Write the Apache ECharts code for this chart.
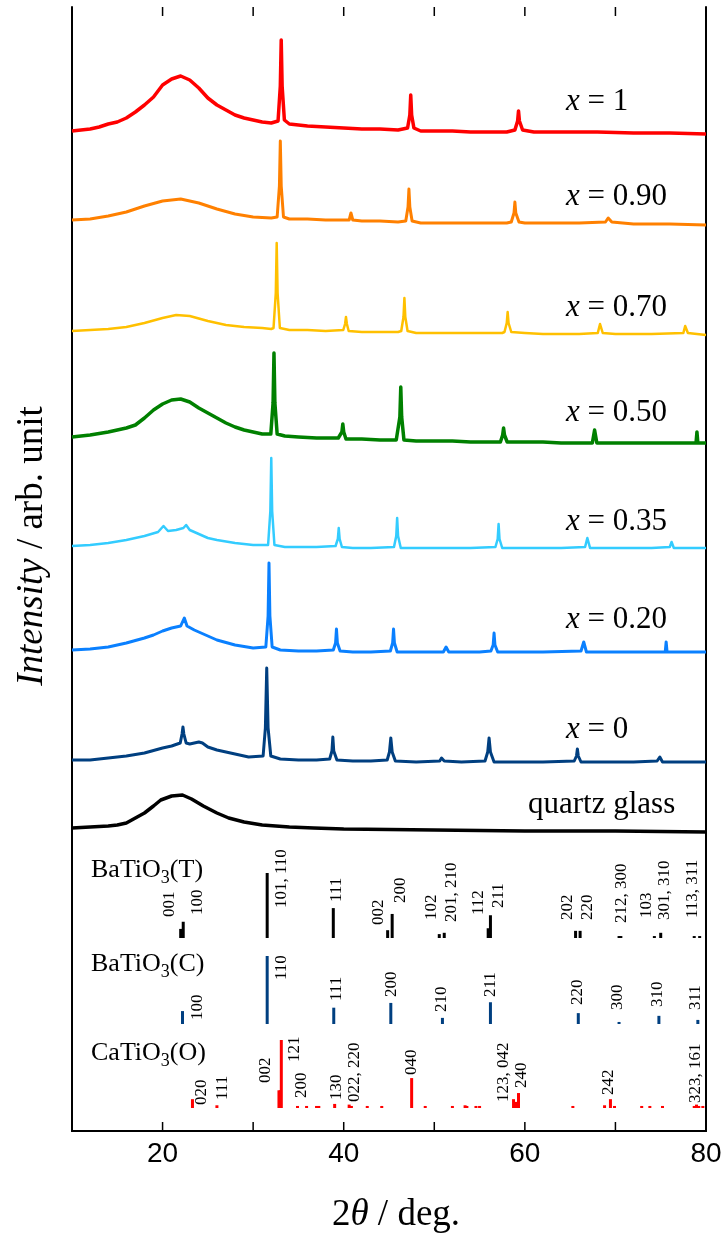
<!DOCTYPE html>
<html>
<head>
<meta charset="utf-8">
<title>XRD patterns</title>
<script src="https://cdn.jsdelivr.net/npm/echarts@6.0.0/dist/echarts.min.js"></script>
<style>
html, body { margin: 0; padding: 0; background: #fff; }
#chart { width: 726px; height: 1239px; }
</style>
</head>
<body>
<div id="chart"></div>
<script>
// ---- data ----

var xTickLabels = [20, 40, 60, 80];

var sampleNames = ['x = 1', 'x = 0.90', 'x = 0.70', 'x = 0.50', 'x = 0.35', 'x = 0.20', 'x = 0', 'quartz glass'];

// [2theta, intensity] per sample, intensity above the sample's own zero
var trace100 = [
    [10, 0], [11, 1], [12, 2], [13, 4], [14, 7], [15, 9], [16, 13], [17, 19], [18, 26], [19, 34],
    [20, 46], [21, 52], [22, 55], [23, 51], [24, 43], [25, 33], [26, 26], [27, 21], [28, 16], [29, 13],
    [30, 11], [31, 9], [32, 8], [32.75, 10], [33.0, 45], [33.1, 91], [33.2, 45], [33.45, 11],
    [34, 7], [35, 6], [36, 5], [38, 4], [40, 3], [42, 2], [44, 2], [46, 1],
    [47.05, 3], [47.3, 16], [47.4, 36], [47.5, 16], [47.75, 3],
    [48.5, 0], [50, 0], [52, 0], [54, -1], [56, -1], [58, -1],
    [58.9, 1], [59.2, 10], [59.3, 20], [59.4, 10], [59.75, 1],
    [61, -1], [64, -1], [68, -1], [72, -2], [76, -2], [80, -3]
];
var trace090 = [
    [10, 1], [12, 2], [14, 5], [16, 9], [18, 15], [20, 20], [22, 22], [24, 18], [26, 12], [28, 7],
    [30, 4], [32, 3], [32.65, 4], [32.9, 35], [33.0, 80], [33.1, 35], [33.35, 4],
    [34, 2], [36, 2], [38, 1], [40.6, 1], [40.8, 8], [41.0, 1], [42, 0], [44, 0], [46, -1],
    [46.85, 0], [47.1, 14], [47.2, 32], [47.3, 14], [47.55, 0],
    [48.5, -2], [50, -2], [52, -2], [54, -2], [56, -2], [58, -2],
    [58.5, -1], [58.8, 8], [58.9, 19], [59.0, 8], [59.35, -1],
    [60, -2], [62, -2], [64, -2], [66, -2], [68.9, -1], [69.2, 3], [69.6, -1],
    [72, -3], [76, -3], [80, -4]
];
var trace070 = [
    [10, 0], [12, 1], [14, 2], [16, 4], [18, 8], [20, 13], [21.5, 16], [23, 15], [25, 10], [27, 6],
    [29, 4], [31, 3], [32, 2], [32.25, 3], [32.5, 38], [32.6, 88], [32.7, 38], [32.95, 3],
    [34, 1], [36, 1], [38, 0], [39.95, 1], [40.15, 7], [40.25, 14], [40.35, 7], [40.55, 0],
    [42, -1], [44, -1], [46, -1], [46.35, 0], [46.6, 14], [46.7, 33], [46.8, 14], [47.05, 0],
    [48, -2], [50, -2], [52, -2], [54, -2], [56, -2], [57.5, -2],
    [57.75, -1], [58.0, 8], [58.1, 19], [58.2, 8], [58.5, -1],
    [60, -2], [62, -3], [64, -3], [66, -3], [68.05, -2], [68.3, 7], [68.6, -2],
    [70, -3], [72, -3], [74, -3], [77.5, -2], [77.7, 5], [78, -2], [80, -4]
];
var trace050 = [
    [10, 4], [12, 6], [14, 9], [16, 13], [17, 16], [18, 23], [19, 31], [20, 37], [21, 41], [22, 42],
    [23, 39], [24, 33], [25, 28], [26, 23], [27, 18], [28, 14], [29, 11], [30, 9], [31, 7], [31.95, 7],
    [32.2, 38], [32.3, 88], [32.4, 38], [32.65, 7], [33.5, 5], [35, 4], [37, 3], [39.4, 3],
    [39.6, 3], [39.8, 9], [39.9, 17], [40.0, 9], [40.25, 2], [42, 2], [44, 1], [45.8, 1],
    [45.95, 2], [46.2, 24], [46.3, 54], [46.4, 24], [46.65, 1],
    [48, 0], [50, 0], [52, 0], [54, -1], [57, -1],
    [57.3, -1], [57.55, 6], [57.65, 13], [57.75, 6], [58.05, -1],
    [60, -1], [62, -1], [64, -2], [67.45, -2], [67.7, 11], [67.95, -2],
    [70, -2], [74, -2], [78.9, -2], [79.0, 9], [79.1, -2], [80, -2]
];
var trace035 = [
    [10, 5], [12, 6], [14, 8], [16, 11], [18, 15], [19.5, 19], [20.1, 25], [20.6, 20], [21.5, 21],
    [22.3, 23], [22.6, 26], [23, 21], [24, 17], [25, 13], [26, 11], [28, 8], [30, 6], [31.65, 6],
    [31.9, 40], [32.0, 93], [32.1, 40], [32.35, 6], [33.5, 4], [35, 4], [37, 4], [39.1, 5],
    [39.35, 12], [39.45, 23], [39.55, 12], [39.8, 4], [41, 3], [43, 3], [45.55, 4],
    [45.8, 15], [45.9, 33], [46.0, 15], [46.3, 3], [48, 3], [50, 3], [52, 3], [54, 3], [56.75, 4],
    [57.0, 12], [57.1, 27], [57.2, 12], [57.5, 3], [60, 3], [62, 3], [64, 3], [66.65, 4],
    [66.9, 13], [67.2, 3], [70, 3], [74, 3], [76.0, 4], [76.2, 9], [76.45, 3], [78, 3], [80, 3]
];
var trace020 = [
    [10, 6], [12, 7], [14, 9], [16, 13], [18, 18], [19, 21], [20, 25], [21, 28], [22, 30], [22.4, 38],
    [22.7, 30], [23.5, 26], [25, 20], [26, 16], [28, 11], [30, 8], [31.4, 9],
    [31.65, 40], [31.75, 93], [31.85, 40], [32.1, 9], [33, 6], [35, 5], [37, 5], [38.85, 6],
    [39.1, 13], [39.2, 27], [39.3, 13], [39.6, 5], [41, 4], [43, 4], [45.15, 5],
    [45.4, 13], [45.5, 27], [45.6, 13], [45.9, 4], [48, 4], [51.0, 4], [51.3, 9], [51.6, 4],
    [53, 4], [55, 4], [56.25, 5], [56.5, 11], [56.6, 23], [56.7, 11], [57.0, 4],
    [59, 4], [62, 4], [66.2, 5], [66.5, 14], [66.8, 4], [70, 4], [73, 4],
    [75.5, 4], [75.6, 14], [75.7, 4], [78, 4], [80, 4]
];
var trace000 = [
    [10, 6], [12, 6], [14, 8], [16, 10], [18, 13], [20, 18], [21, 20], [21.95, 23],
    [22.15, 32], [22.25, 39], [22.35, 32], [22.6, 23], [23, 22], [24.0, 24], [24.4, 23], [25, 19],
    [26, 16], [27, 14], [28, 12], [29.5, 9], [31.1, 10], [31.35, 38], [31.5, 98], [31.65, 38],
    [31.95, 10], [33, 7], [35, 6], [37, 6], [38.45, 7], [38.7, 15], [38.8, 29], [38.9, 15],
    [39.25, 6], [41, 5], [43, 5], [44.8, 6], [45.05, 14], [45.2, 28], [45.35, 14], [45.7, 5],
    [48, 4], [50.6, 5], [50.8, 8], [51.1, 5], [53, 4], [55.6, 5], [55.9, 14], [56.05, 28],
    [56.2, 14], [56.6, 4], [59, 4], [62, 4], [65.45, 5], [65.7, 10], [65.8, 17], [65.9, 10],
    [66.2, 4], [70, 4], [72, 4], [74.6, 5], [74.9, 9], [75.2, 4], [78, 4], [80, 4]
];
var traceQuartz = [
    [10, 3], [12, 4], [14, 5], [15, 6], [16, 8], [17, 13], [18, 18], [19, 25], [19.8, 31], [21, 35],
    [22.2, 36], [23.2, 32], [24.5, 25], [26, 18], [27.3, 13], [29, 9], [31, 6], [34, 4],
    [36.7, 3], [40, 2], [50, 1], [60, 0], [70, 0], [80, -1]
];

// reference patterns: [2theta, relative intensity]
var batioTLines = [
    [22.0, 14], [22.28, 25], [31.55, 100], [38.85, 46], [44.85, 12], [45.35, 37], [50.55, 6],
    [51.1, 8], [55.95, 15], [56.2, 35], [65.6, 11], [66.1, 11], [70.4, 3], [70.6, 3], [74.3, 3],
    [75.0, 8], [78.7, 3], [79.3, 3]
];
var batioCLines = [
    [22.2, 19], [31.55, 100], [38.9, 24], [45.2, 31], [50.9, 9], [56.2, 32], [65.9, 16],
    [70.4, 3], [74.8, 12], [79.1, 6]
];
var catioLines = [
    [23.3, 13], [26.0, 4], [32.85, 26], [33.0, 26], [33.11, 100], [34.9, 3], [35.9, 3], [37.0, 3],
    [37.25, 3], [39.0, 6], [40.6, 5], [40.85, 3], [42.6, 3], [44.2, 3], [47.5, 44], [49.0, 3],
    [52.0, 3], [53.4, 4], [53.6, 3], [54.6, 3], [55.0, 3], [58.75, 13], [59.0, 9], [59.3, 22],
    [65.3, 3], [68.8, 4], [69.45, 13], [69.9, 3], [72.9, 3], [73.8, 3], [75.2, 3], [78.7, 3],
    [78.95, 5], [79.2, 3], [79.65, 3]
];

var batioTHkl = ['001', '100', '101, 110', '111', '002', '200', '102', '201, 210', '112', '211',
    '202', '220', '212, 300', '103', '301, 310', '113, 311'];
var batioCHkl = ['100', '110', '111', '200', '210', '211', '220', '300', '310', '311'];
var catioHkl = ['020', '111', '002', '121', '200', '130', '022, 220', '040', '123, 042', '240',
    '242', '323, 161'];

// ---- layout ----

var SERIF = '"Liberation Serif", "DejaVu Serif", serif';
var SANS = '"Liberation Sans", Arial, sans-serif';

var colors = ['#ff0000', '#ff8000', '#ffc000', '#008000', '#33ccff', '#0a80ff', '#003f80', '#000000'];
var widths = [3.5, 3, 2.5, 3.5, 2.5, 3, 3, 3.5];
var traces = [trace100, trace090, trace070, trace050, trace035, trace020, trace000, traceQuartz];
var offsets = [1000, 910, 800, 690, 580, 475, 365, 300];
var nameAt = [[566, 102], [566, 197], [566, 308], [566, 413], [566, 522], [566, 620], [566, 730], [528, 805]];

// where the rotated hkl labels start, [2theta, height]
var batioTLabelAt = [[20.82, 214], [23.91, 216], [33.15, 223], [39.23, 229], [43.79, 206], [46.22, 228],
    [49.72, 211], [51.92, 209], [54.83, 216], [57.04, 223], [64.73, 211], [66.94, 211], [70.69, 208],
    [73.45, 213], [75.47, 211], [78.56, 213]];
var batioCLabelAt = [[23.91, 111], [33.15, 151], [39.23, 130], [45.33, 134], [50.82, 119], [56.26, 134],
    [65.87, 126], [70.25, 121], [74.7, 124], [78.79, 121]];
var catioLabelAt = [[24.32, 26], [26.64, 31], [31.42, 48], [34.62, 69], [35.36, 33], [39.23, 31],
    [41.14, 29], [47.51, 56], [57.62, 29], [59.65, 43], [69.21, 36], [78.86, 28]];

// frame ticks, drawn inward from the bottom and top edges
var tickValues = [20, 30, 40, 50, 60, 70];

function barRenderer(base, scale, color) {
    return function (params, api) {
        var x = api.value(0);
        var p0 = api.coord([x, base]);
        var p1 = api.coord([x, base + api.value(1) * scale]);
        return {
            type: 'rect',
            shape: { x: p0[0] - 1.5, y: p1[1], width: 3, height: p0[1] - p1[1] },
            style: { fill: color }
        };
    };
}

function labelRenderer(texts) {
    return function (params, api) {
        var p = api.coord([api.value(0), api.value(1)]);
        return {
            type: 'text',
            x: p[0],
            y: p[1],
            rotation: Math.PI / 2,
            style: {
                text: texts[params.dataIndex],
                fontFamily: SERIF, fontSize: 17, fill: '#000',
                align: 'left', verticalAlign: 'middle'
            }
        };
    };
}

function tickRenderer(params, api) {
    var x = api.value(0);
    var lo = api.coord([x, 0]);
    var hi = api.coord([x, 1124]);
    return {
        type: 'group',
        children: [
            { type: 'line', shape: { x1: lo[0], y1: lo[1], x2: lo[0], y2: lo[1] - 9 }, style: { stroke: '#000', lineWidth: 1.5 } },
            { type: 'line', shape: { x1: hi[0], y1: hi[1], x2: hi[0], y2: hi[1] + 9 }, style: { stroke: '#000', lineWidth: 1.5 } }
        ]
    };
}

function refSeries(lines, base, scale, color) {
    return {
        type: 'custom',
        renderItem: barRenderer(base, scale, color),
        encode: { x: 0, y: 1 },
        data: lines,
        silent: true
    };
}

function labelSeries(at, texts) {
    return {
        type: 'custom',
        renderItem: labelRenderer(texts),
        encode: { x: 0, y: 1 },
        data: at,
        silent: true
    };
}

var series = [];
for (var i = 0; i < traces.length; i++) {
    var off = offsets[i];
    series.push({
        type: 'line',
        data: traces[i].map(function (p) { return [p[0], p[1] + off]; }),
        showSymbol: false,
        symbol: 'none',
        lineStyle: { color: colors[i], width: widths[i], join: 'round' },
        silent: true
    });
}
series.push(refSeries(batioTLines, 193, 0.65, '#000000'));
series.push(refSeries(batioCLines, 107, 0.68, '#003f80'));
series.push(refSeries(catioLines, 23, 0.68, '#ff0000'));
series.push(labelSeries(batioTLabelAt, batioTHkl));
series.push(labelSeries(batioCLabelAt, batioCHkl));
series.push(labelSeries(catioLabelAt, catioHkl));
series.push({
    type: 'custom',
    renderItem: tickRenderer,
    encode: { x: 0 },
    data: tickValues.map(function (v) { return [v, 0]; }),
    clip: false,
    silent: true,
    z: 5
});

var graphics = [];
var italicRich = {
    n: { fontFamily: SERIF, fontSize: 31, fill: '#000' },
    i: { fontFamily: SERIF, fontSize: 31, fontStyle: 'italic', fill: '#000' }
};
for (var j = 0; j < sampleNames.length; j++) {
    var nm = sampleNames[j];
    var txt = nm.charAt(0) === 'x' ? '{i|x}{n|' + nm.slice(1) + '}' : '{n|' + nm + '}';
    graphics.push({
        type: 'text', x: nameAt[j][0], y: nameAt[j][1], silent: true,
        style: { text: txt, rich: italicRich, align: 'left', verticalAlign: 'middle' }
    });
}

var phaseRich = {
    n: { fontFamily: SERIF, fontSize: 26, fill: '#000' },
    s: { fontFamily: SERIF, fontSize: 18, fill: '#000', padding: [16, 0, 0, 0] }
};
[['{n|BaTiO}{s|3}{n|(T)}', 870], ['{n|BaTiO}{s|3}{n|(C)}', 964], ['{n|CaTiO}{s|3}{n|(O)}', 1053]].forEach(function (t) {
    graphics.push({
        type: 'text', x: 91, y: t[1], silent: true,
        style: { text: t[0], rich: phaseRich, align: 'left', verticalAlign: 'middle' }
    });
});

var titleRich = {
    n: { fontFamily: SERIF, fontSize: 37, fill: '#000' },
    i: { fontFamily: SERIF, fontSize: 37, fontStyle: 'italic', fill: '#000' }
};
graphics.push({
    type: 'text', x: 396, y: 1215, silent: true,
    style: { text: '{n|2}{i|θ}{n| / deg.}', rich: titleRich, align: 'center', verticalAlign: 'middle' }
});
graphics.push({
    type: 'text', x: 32, y: 546, rotation: Math.PI / 2, silent: true,
    style: { text: '{i|Intensity}{n| / arb. unit}', rich: titleRich, align: 'center', verticalAlign: 'middle' }
});

var chart = echarts.init(document.getElementById('chart'), null, { renderer: 'canvas' });
chart.setOption({
    animation: false,
    backgroundColor: '#fff',
    grid: { left: 72, right: 20, top: 7, bottom: 108 },
    xAxis: [{
        type: 'value', min: 10, max: 80, interval: 10, position: 'bottom',
        axisLine: { lineStyle: { color: '#000', width: 2 } },
        axisTick: { show: false },
        splitLine: { show: false },
        axisLabel: {
            margin: 9, color: '#000', fontFamily: SANS, fontSize: 28,
            formatter: function (v) { return xTickLabels.indexOf(v) >= 0 ? String(v) : ''; }
        }
    }, {
        type: 'value', min: 10, max: 80, interval: 10, position: 'top',
        axisLine: { lineStyle: { color: '#000', width: 2 } },
        axisTick: { show: false },
        splitLine: { show: false },
        axisLabel: { show: false }
    }],
    yAxis: [{
        type: 'value', min: 0, max: 1124, position: 'left',
        axisLine: { show: true, lineStyle: { color: '#000', width: 2 } },
        axisTick: { show: false }, axisLabel: { show: false }, splitLine: { show: false }
    }, {
        type: 'value', min: 0, max: 1124, position: 'right',
        axisLine: { show: true, lineStyle: { color: '#000', width: 2 } },
        axisTick: { show: false }, axisLabel: { show: false }, splitLine: { show: false }
    }],
    graphic: graphics,
    series: series
});
</script>
</body>
</html>
